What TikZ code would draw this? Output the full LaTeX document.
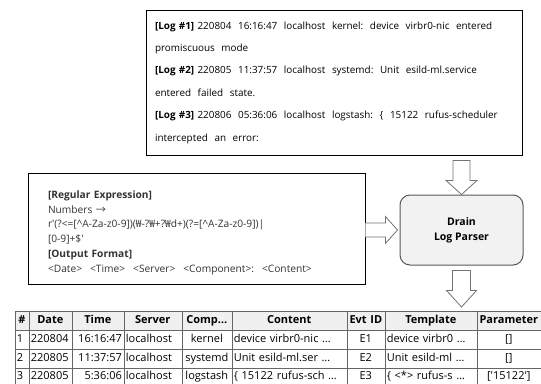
\documentclass[tikz,border=0pt]{standalone}
\usepackage{fontspec}
\setmainfont{Open Sans}
\newfontfamily\krfont{Noto Sans CJK KR}
\usetikzlibrary{matrix,calc}

\begin{document}
\begin{tikzpicture}[
	x=1pt, y=-1pt,
	logbox/.style={
		rectangle,
		draw=black,
		line width=0.9pt,
		align=left,
		inner xsep=9pt,
		minimum width=376pt,
		minimum height=145pt,
		text width=358pt,
		font=\fontsize{9.9}{22.4}\selectfont
	},
	regexbox/.style={
		rectangle,
		draw=black,
		line width=0.8pt,
		align=left,
		text=black!80,
		minimum width=337pt,
		minimum height=111pt,
		text width=297pt,
		font=\fontsize{10.2}{14.8}\selectfont
	},
	parserbox/.style={
		rectangle,
		draw=black!65,
		line width=1pt,
		rounded corners=10pt,
		fill=gray!10,
		align=center,
		minimum width=123pt,
		minimum height=70pt,
		font=\fontsize{10.5}{15}\selectfont\bfseries
	},
	blockarrow/.style={
		draw=black!55,
		fill=white,
		line width=0.8pt,
		line join=miter
	},
	cell/.style={
		rectangle,
		draw=black!60,
		line width=0.6pt,
		inner xsep=2pt,
		inner ysep=0pt,
		minimum height=19pt,
		text height=8pt,
		text depth=2.5pt,
		font=\fontsize{11}{12}\selectfont
	},
]

\useasboundingbox (0,0) rectangle (541,383);

% Raw logs
\node[logbox] (logs) at (334,82.5) {%
\textbf{[Log \#1]} 220804\ \ 16:16:47\ \ localhost\ \ kernel:\ \ device\ \ virbr0-nic\ \ entered\\
promiscuous\ \ mode\\
\textbf{[Log \#2]} 220805\ \ 11:37:57\ \ localhost\ \ systemd:\ \ Unit\ \ esild-ml.service\\
entered\ \ failed\ \ state.\\
\textbf{[Log \#3]} 220806\ \ 05:36:06\ \ localhost\ \ logstash:\ \ \{\ \ 15122\ \ rufus-scheduler\\
intercepted\ \ an\ \ error:};

% Regex / format
\node[regexbox] (regex) at (196.5,228.5) {%
\rule{0pt}{16pt}\textbf{[Regular Expression]}\\
Numbers {\krfont →}\\
r\textquotesingle(?<=[\textasciicircum A-Za-z0-9])({\krfont ₩}-?{\krfont ₩}+?{\krfont ₩}d+)(?=[\textasciicircum A-Za-z0-9])|\\
{[0-9]+\$\textquotesingle}\\
\textbf{[Output Format]}\\
<Date>\hspace{8pt}<Time>\hspace{8pt}<Server>\hspace{8pt}<Component>:\hspace{8pt}<Content>};

% Parser
\node[parserbox] (parser) at (461.5,230) {Drain\\Log Parser};

% Structured output
\matrix (tbl) [matrix of nodes, anchor=north west, nodes={cell},
	column sep=-0.6pt, row sep=-0.6pt,
	column 1/.style={nodes={text width=10pt, align=left}},
	column 2/.style={nodes={text width=39pt, align=left}},
	column 3/.style={nodes={text width=48pt, align=right}},
	column 4/.style={nodes={text width=54pt, align=left}},
	column 5/.style={nodes={text width=46pt, align=center}},
	column 6/.style={nodes={text width=111pt, align=left}},
	column 7/.style={nodes={text width=34pt, align=center}},
	column 8/.style={nodes={text width=88pt, align=left}},
	column 9/.style={nodes={text width=60pt, align=center}},
	row 1/.style={nodes={align=center, fill=gray!12, font=\fontsize{11}{12}\selectfont\bfseries}},
	row 4/.style={nodes={minimum height=21pt, text depth=5pt}}
] at (11,307) {
\# & Date & Time & Server & Comp\ldots & Content & Evt ID & Template & Parameter \\
1 & 220804 & 16:16:47 & localhost & kernel & device virbr0-nic \ldots & E1 & device virbr0 \ldots & {[]} \\
2 & 220805 & 11:37:57 & localhost & systemd & Unit esild-ml.ser \ldots & E2 & Unit esild-ml \ldots & {[]} \\
3 & 220805 & 5:36:06 & localhost & logstash & \{ 15122 rufus-sch \ldots & E3 & \{ <*> rufus-s \ldots & {[\textquotesingle 15122\textquotesingle]} \\
};

% Block arrows
\coordinate (a1) at (logs.south -| parser.north);
\draw[blockarrow] ($(a1)+(-8.5,5)$) -- ++(17,0) -- ++(0,20) -- ++(7,0) -- (parser.north)
	-- ($(a1)+(-15.5,25)$) -- ++(7,0) -- cycle;

\coordinate (a2) at (parser.south |- tbl.north);
\draw[blockarrow] ($(parser.south)+(-9,5)$) -- ++(18,0) -- ++(0,20) -- ++(6,0) -- (a2)
	-- ($(parser.south)+(-15,25)$) -- ++(6,0) -- cycle;

\coordinate (a3) at (regex.east |- parser.west);
\draw[blockarrow] ($(a3)+(0,-7)$) -- ++(20,0) -- ++(0,-6.5) -- ($(parser.west)+(-2,0)$)
	-- ($(a3)+(20,13.5)$) -- ++(0,-6.5) -- ++(-20,0);

\end{tikzpicture}
\end{document}
